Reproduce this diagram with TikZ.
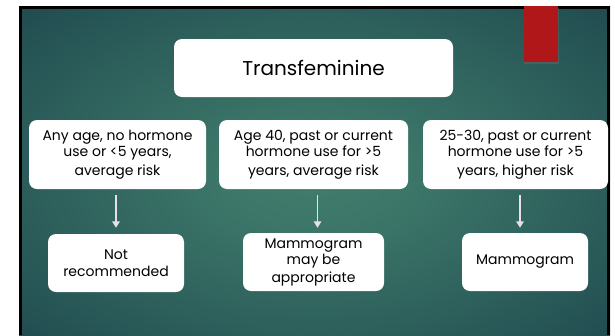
\documentclass[tikz,border=0pt]{standalone}
\usepackage{fontspec}
\setmainfont{Poppins}
\usetikzlibrary{arrows.meta,positioning}

\definecolor{bgin}{RGB}{64,124,108}
\definecolor{bgout}{RGB}{17,52,66}
\definecolor{tabred}{RGB}{176,23,24}
\definecolor{arrowpink}{RGB}{232,222,240}

\pgfdeclareradialshading{slidebg}{\pgfpoint{0bp}{0bp}}{%
  color(0bp)=(bgin); color(8bp)=(bgin!92!bgout); color(30bp)=(bgin!45!bgout);
  color(48bp)=(bgout); color(75bp)=(bgout)}

\tikzset{
  box/.style={fill=white, rounded corners=8pt, align=center, inner sep=2pt,
    font=\fontsize{14}{16.5}\selectfont},
  titlebox/.style={box, minimum width=279pt, minimum height=58pt,
    font=\fontsize{20}{22}\selectfont},
  casebox/.style={box, minimum height=69pt},
  outbox/.style={box, minimum height=58pt},
  arr/.style={draw=arrowpink, line width=1.8pt, -{Triangle[width=7.5pt,length=6.5pt]}}
}

\begin{document}
\begin{tikzpicture}[x=1pt, y=-1pt]
  \useasboundingbox[fill=white] (0,0) rectangle (615,335);
  % slide background
  \shade[shading=slidebg] (19,6) rectangle (610,345);
  \draw[black, line width=2.6pt] (20.3,335) -- (20.3,7.3) -- (608.7,7.3) -- (608.7,335);
  \fill[black!60, opacity=0.5] (524,8) rectangle (559,63.5);
  \fill[tabred] (524,6) rectangle (558,62);

  \node[titlebox] (title) at (313.5,68) {Transfeminine};

  \node[casebox, minimum width=177pt] (c1) at (117.5,154.5)
    {Any age, no hormone\\use or <5 years,\\[2pt]average risk};
  \node[casebox, minimum width=189pt] (c2) at (313.5,154.5)
    {Age 40, past or current\\hormone use for >5\\[2pt]years, average risk};
  \node[casebox, minimum width=185pt] (c3) at (515.5,154.5)
    {25-30, past or current\\hormone use for >5\\[2pt]years, higher risk};

  \node[outbox, minimum width=136pt] (o1) at (116,263) {Not\\recommended};
  \node[outbox, minimum width=141pt] (o2) at (313.5,262) {Mammogram\\may be\\[1pt]appropriate};
  \node[outbox, minimum width=126pt] (o3) at (525,262) {Mammogram};

  \draw[arr] ([yshift=-6pt]c1.south -| o1.north) -- ([yshift=6pt]o1.north);
  \draw[arr] ([xshift=4pt,yshift=-6pt]c2.south) -- ([xshift=4pt,yshift=5pt]o2.north);
  \draw[arr] ([xshift=4.5pt,yshift=-6pt]c3.south) -- ([xshift=-5pt,yshift=5pt]o3.north);
\end{tikzpicture}
\end{document}
